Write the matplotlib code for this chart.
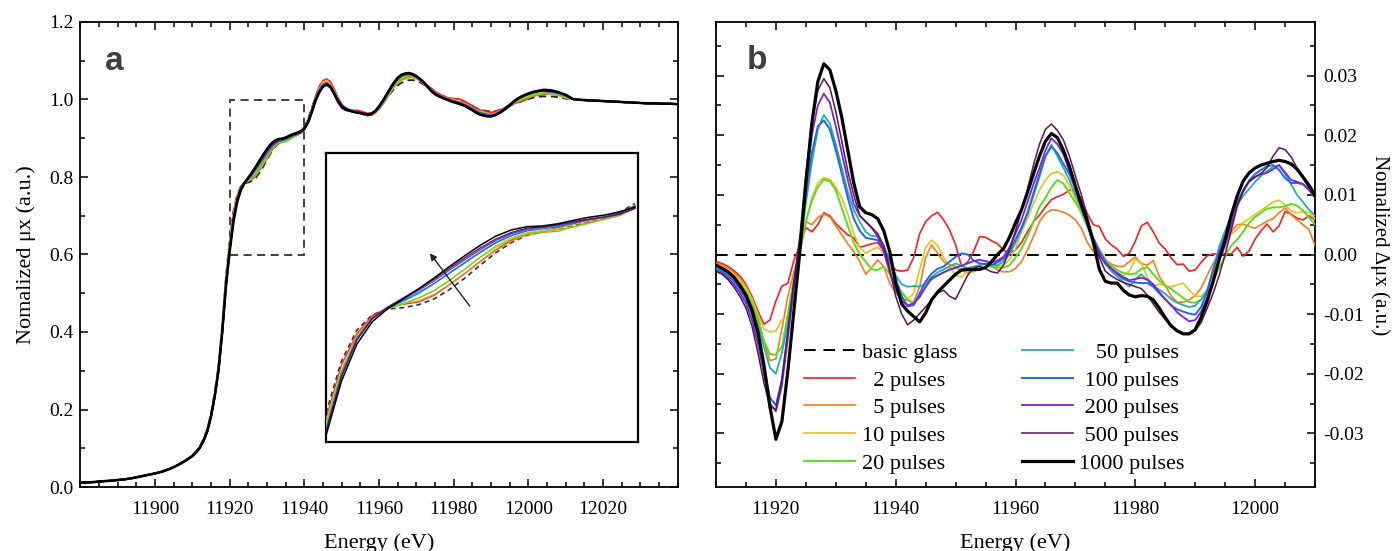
import numpy as np
import matplotlib
matplotlib.use('Agg')
import matplotlib.pyplot as plt
from matplotlib.ticker import MultipleLocator, FormatStrFormatter
from matplotlib.patches import Rectangle

plt.rcParams['font.family'] = ['Liberation Serif', 'DejaVu Serif']
plt.rcParams['axes.unicode_minus'] = False

# ---------------- data ----------------
# panel (b) energy grid (eV)
energy_b = np.arange(11910, 12011, 1)

# panel (a) pre-edge / post-edge energies and basic glass absorption
energy_pre = [11880, 11882, 11884, 11886, 11888, 11890, 11892, 11894,
              11896, 11898, 11900, 11902, 11904, 11906, 11908]
base_pre = [0.011, 0.012, 0.013, 0.015, 0.016, 0.018, 0.020, 0.023,
            0.027, 0.031, 0.035, 0.040, 0.047, 0.056, 0.067]
energy_post = [12012, 12014, 12016, 12018, 12020, 12022, 12024, 12026,
               12028, 12030, 12032, 12034, 12036, 12038, 12040]
base_post = [1.001, 0.999, 0.998, 0.997, 0.996, 0.995, 0.994, 0.993,
             0.992, 0.991, 0.990, 0.990, 0.989, 0.989, 0.988]
# basic glass normalized mu x on energy_b grid
base_mid = [
    0.082, 0.092, 0.105, 0.124, 0.150, 0.190, 0.245, 0.315, 0.420, 0.545,
    0.640, 0.712, 0.755, 0.776, 0.784, 0.786, 0.790, 0.798, 0.811, 0.827,
    0.845, 0.862, 0.876, 0.886, 0.891, 0.895, 0.900, 0.905, 0.910, 0.918,
    0.930, 0.950, 0.978, 1.008, 1.030, 1.043, 1.046, 1.038, 1.020, 1.000,
    0.986, 0.978, 0.974, 0.971, 0.969, 0.967, 0.964, 0.962, 0.963, 0.968,
    0.977, 0.989, 1.002, 1.015, 1.027, 1.036, 1.043, 1.047, 1.050, 1.050,
    1.048, 1.044, 1.038, 1.031, 1.024, 1.018, 1.013, 1.009, 1.006, 1.003,
    1.000, 0.997, 0.994, 0.991, 0.987, 0.983, 0.978, 0.974, 0.972, 0.970,
    0.969, 0.970, 0.972, 0.975, 0.979, 0.983, 0.988, 0.992, 0.995, 0.998,
    1.001, 1.004, 1.006, 1.007, 1.008, 1.008, 1.008, 1.007, 1.006, 1.004,
    1.002]

# difference spectra (units of 1e-3) on energy_b grid
d_2 = [
    -1.2, -1.5, -2.0, -2.7, -3.6, -5.0, -7.0, -9.5, -11.7, -11.0,
    -7.8, -5.3, -4.8, -1.0, 1.5, 4.5, 3.8, 5.0, 7.0, 6.5,
    5.2, 4.2, 3.3, 2.8, 1.2, 1.5, 1.8, 2.0, 0.6, -1.5,
    -2.6, -2.8, -2.6, -0.5, 3.5, 5.5, 6.5, 7.1, 5.8, 4.1,
    1.6, -2.0, -1.3, 0.5, 3.0, 2.9, 2.3, 1.8, 0.7, 0.2,
    0.8, 2.0, 3.8, 5.5, 6.6, 8.0, 9.2, 9.7, 10.1, 10.8,
    10.8, 9.3, 6.8, 5.0, 4.7, 2.6, 1.6, 0.9, -0.3, 0.2,
    2.2, 4.8, 5.4, 3.8, 1.9, 0.9, -0.6, -1.7, -1.6, -2.8,
    -2.6, -1.3, -0.2, 0.1, 0.1, 0.1, 0.1, 1.2, -0.3, 0.6,
    2.6, 4.0, 5.1, 3.8, 4.8, 7.2, 6.8, 6.1, 5.8, 6.5,
    5.8]
d_5 = [
    -1.5, -1.8, -2.3, -3.0, -4.0, -5.3, -7.3, -10.5, -14.5, -17.8,
    -17.5, -12.5, -7.0, -3.0, 0.5, 5.5, 5.0, 6.2, 6.8, 6.3,
    4.8, 3.3, 1.8, 0.5, -1.2, -3.3, -2.2, -0.9, -2.0, -4.8,
    -6.5, -7.4, -7.7, -8.0, -5.4, -0.5, 1.6, 0.2, -1.2, -1.7,
    -2.0, -2.6, -3.1, -2.3, -1.8, -1.5, -1.9, -2.6, -2.9, -2.9,
    -2.3, -1.2, 0.8, 3.0, 5.5, 6.9, 7.5, 7.4, 7.1, 6.6,
    5.8, 4.4, 2.0, 0.5, -0.4, -0.9, -1.6, -2.0, -2.0, -1.2,
    -0.4, -1.5, -1.8, -1.0, -3.7, -5.2, -7.0, -8.0, -8.0, -7.6,
    -6.9, -5.6, -3.5, -1.5, 0.2, 1.8, 3.8, 5.0, 5.1, 4.7,
    4.4, 5.0, 5.6, 6.0, 7.0, 7.8, 6.7, 5.8, 5.0, 4.2,
    1.5]
d_10 = [
    -1.8, -2.2, -2.7, -3.4, -4.3, -5.6, -7.5, -10.0, -12.5, -13.0,
    -12.8, -11.0, -10.3, -5.0, 0.5, 5.5, 9.5, 12.0, 12.9, 12.6,
    11.3, 9.5, 6.8, 3.5, 1.2, 0.2, 0.8, 1.2, 0.2, -2.0,
    -4.5, -6.5, -7.5, -6.5, -2.5, 1.2, 2.4, 1.5, -0.5, -2.0,
    -3.5, -3.8, -2.7, -2.3, -2.3, -2.1, -2.0, -2.0, -1.7, -0.9,
    1.0, 3.8, 6.0, 8.5, 10.8, 12.5, 13.6, 13.9, 13.3, 11.6,
    9.3, 6.8, 4.7, 2.3, 1.0, -0.7, -2.0, -3.0, -3.6, -2.8,
    -0.8, -1.5, -3.8, -5.3, -5.0, -5.2, -5.4, -5.1, -4.8, -6.0,
    -7.0, -7.0, -6.0, -3.5, -0.5, 2.0, 3.4, 4.2, 5.3, 6.0,
    6.7, 7.4, 8.1, 8.8, 9.1, 8.3, 7.3, 7.0, 7.2, 7.0,
    6.0]
d_20 = [
    -2.0, -2.4, -3.0, -3.8, -4.8, -6.2, -8.2, -11.0, -14.5, -16.7,
    -16.8, -15.5, -10.0, -4.0, 0.5, 5.5, 9.0, 11.3, 12.6, 12.3,
    10.8, 7.8, 4.8, 2.0, 0.0, -1.2, -2.5, -2.6, -2.0, -3.2,
    -4.9, -6.3, -7.6, -8.2, -7.1, -5.0, -4.2, -3.6, -3.0, -2.6,
    -2.3, -2.5, -2.7, -2.9, -2.4, -2.0, -2.0, -2.2, -2.2, -1.8,
    -0.5, 1.0, 3.0, 5.5, 8.0, 9.5, 11.3, 12.5, 11.9, 10.3,
    8.7, 7.2, 4.8, 2.3, 0.3, -0.9, -1.9, -2.6, -3.1, -3.3,
    -3.2, -2.4, -2.1, -3.3, -4.4, -5.2, -5.8, -6.5, -7.3, -8.0,
    -8.1, -7.6, -6.5, -4.5, -2.2, -0.3, 1.5, 2.5, 3.8, 5.3,
    6.3, 7.0, 7.7, 7.9, 7.9, 8.1, 8.5, 8.2, 7.4, 6.2,
    5.0]
d_50 = [
    -2.3, -2.7, -3.3, -4.1, -5.2, -6.7, -8.8, -11.8, -15.5, -19.0,
    -20.0, -16.5, -11.5, -5.0, 1.0, 8.5, 15.5, 21.0, 23.4, 22.0,
    18.5, 14.5, 10.5, 7.5, 5.5, 3.8, 3.1, 3.0, 1.5, -0.9,
    -3.5, -5.0, -5.4, -5.3, -5.4, -4.9, -3.8, -3.0, -2.5, -2.0,
    -1.5, -1.9, -2.3, -2.0, -1.8, -1.5, -1.7, -1.8, -1.2, 0.0,
    2.0, 4.2, 6.8, 9.8, 13.0, 16.5, 18.4, 16.5, 14.5, 12.5,
    10.0, 7.6, 4.8, 2.2, 0.2, -1.6, -2.8, -3.7, -4.6, -5.4,
    -4.2, -3.3, -4.3, -5.3, -5.9, -6.6, -7.5, -8.1, -8.5, -8.8,
    -8.6, -7.5, -6.0, -2.5, 1.3, 4.0, 6.5, 8.3, 9.8, 11.0,
    12.2, 13.2, 14.0, 14.7, 15.0, 13.5, 11.8, 10.0, 8.8, 7.5,
    6.5]
d_100 = [
    -2.5, -2.9, -3.6, -4.5, -5.8, -7.5, -10.0, -14.0, -19.0, -24.0,
    -25.3, -21.0, -13.0, -5.0, 1.5, 10.0, 17.0, 21.5, 22.5, 21.0,
    17.5, 13.5, 9.5, 6.0, 4.0, 2.8, 2.6, 2.4, 1.0, -1.0,
    -4.0, -7.0, -8.7, -8.5, -6.5, -4.5, -3.2, -2.4, -2.0, -1.2,
    -0.4, 0.2, 0.0, -1.0, -1.5, -1.6, -1.8, -1.3, -0.7, 0.6,
    2.5, 4.5, 7.0, 10.3, 13.5, 16.5, 18.1, 17.0, 15.2, 13.5,
    11.0, 8.0, 5.3, 2.8, 0.6, -1.2, -2.4, -3.3, -4.1, -4.5,
    -4.7, -4.8, -4.8, -5.4, -6.5, -7.5, -8.6, -9.2, -9.6, -9.9,
    -10.1, -8.8, -6.3, -2.5, 0.5, 3.2, 6.3, 8.8, 10.7, 12.4,
    13.5, 14.2, 14.8, 15.0, 14.2, 12.8, 12.0, 12.0, 11.8, 11.0,
    10.0]
d_200 = [
    -2.8, -3.2, -4.0, -5.0, -6.4, -8.2, -11.0, -15.0, -20.0, -25.0,
    -26.3, -22.0, -14.0, -5.5, 2.0, 12.0, 20.0, 25.0, 27.0, 25.5,
    21.5, 17.0, 12.5, 8.5, 6.5, 5.5, 4.5, 3.0, 0.5, -3.0,
    -6.0, -7.8, -8.5, -8.2, -7.1, -5.5, -4.0, -3.5, -3.0, -2.5,
    -2.2, -1.9, -1.5, -1.1, -0.9, -1.1, -1.4, -1.0, -0.4, 1.2,
    3.5, 5.8, 8.8, 11.8, 14.5, 17.5, 19.5, 18.5, 16.8, 14.0,
    11.5, 8.8, 5.5, 2.5, 0.0, -1.5, -2.4, -3.1, -3.8, -4.3,
    -4.1, -3.9, -4.2, -5.0, -6.3, -7.5, -8.5, -9.7, -10.5, -11.2,
    -11.0, -9.6, -7.3, -4.5, -1.0, 1.5, 5.0, 8.2, 10.5, 12.2,
    13.0, 13.5, 13.7, 14.3, 15.0, 13.8, 12.5, 12.2, 11.8, 10.8,
    9.5]
d_500 = [
    -2.8, -3.3, -4.2, -5.5, -7.0, -9.0, -12.0, -16.5, -21.5, -25.5,
    -26.0, -21.0, -13.0, -4.5, 3.0, 13.5, 22.0, 27.5, 29.5, 28.0,
    24.0, 19.0, 14.0, 10.0, 6.5, 5.5, 4.5, 3.5, 1.5, -2.5,
    -7.0, -10.0, -11.8, -11.0, -9.9, -8.8, -7.6, -6.5, -6.0, -7.0,
    -7.5, -5.5, -3.5, -2.3, -2.0, -2.4, -2.9, -3.1, -1.8, 0.8,
    4.0, 7.3, 11.0, 15.0, 18.5, 21.0, 21.9, 20.8, 19.2, 16.5,
    13.2, 10.0, 6.3, 2.6, -0.5, -2.8, -3.6, -4.2, -4.7, -5.0,
    -5.4, -5.7, -6.8, -8.3, -9.7, -10.9, -12.0, -12.9, -13.4, -13.4,
    -12.8, -11.4, -9.0, -6.5, -3.5, 0.0, 4.0, 8.0, 10.8, 12.3,
    13.0, 13.6, 14.6, 16.5, 17.9, 17.6, 16.4, 14.5, 12.8, 11.2,
    9.5]
d_1000 = [
    -1.8, -2.3, -2.9, -3.8, -5.2, -6.8, -9.3, -13.0, -18.5, -25.5,
    -31.0, -28.0, -19.5, -9.5, 0.5, 12.0, 22.0, 29.0, 32.0, 31.0,
    27.5, 23.0, 17.5, 12.0, 8.0, 7.0, 6.7, 6.0, 4.0, 0.5,
    -4.8, -8.3, -9.5, -10.4, -11.3, -9.8, -7.6, -6.3, -5.3, -4.3,
    -3.3, -2.6, -2.5, -2.5, -2.5, -2.2, -1.2, 0.0, 1.0, 2.9,
    5.3, 7.5, 10.4, 13.5, 16.5, 19.0, 20.3, 19.6, 17.5, 14.8,
    11.5, 8.3, 5.5, 2.0, -2.5, -4.5, -4.8, -4.8, -6.0, -6.8,
    -7.1, -6.9, -7.0, -7.6, -9.0, -10.6, -12.0, -12.8, -13.3, -13.3,
    -12.6, -10.5, -7.8, -4.5, -0.8, 2.5, 6.5, 9.8, 12.3, 13.7,
    14.5, 15.0, 15.3, 15.6, 15.8, 15.6, 15.2, 14.3, 13.0, 11.6,
    10.0]

series_labels = ['  2 pulses', '  5 pulses', '10 pulses', '20 pulses',
                 '   50 pulses', ' 100 pulses', ' 200 pulses', ' 500 pulses',
                 '1000 pulses']
series_diffs = [d_2, d_5, d_10, d_20, d_50, d_100, d_200, d_500, d_1000]
series_colors = ['#ff1e1e', '#ff7a1a', '#e2c41c', '#5ade1c', '#1fb2a4',
                 '#1f66f5', '#7b22e0', '#5e1258', '#000000']
series_lw_b = [1.2, 1.2, 1.2, 1.4, 1.3, 1.4, 1.3, 1.1, 2.3]
base_label = 'basic glass'

inset_xlim = (11920, 11940)
inset_ylim = (0.6, 1.0)

# ---------------- figure ----------------
W, H = 1394, 551
fig = plt.figure(figsize=(W / 100, H / 100), dpi=100)


def px_axes(x0, y0, x1, y1):
    return [x0 / W, 1 - y1 / H, (x1 - x0) / W, (y1 - y0) / H]


axa = fig.add_axes(px_axes(80.4, 22, 677.7, 487))
axb = fig.add_axes(px_axes(716, 22, 1315, 487))
axi = fig.add_axes(px_axes(326, 153, 638, 442))

e_b = np.asarray(energy_b, dtype=float)
base_mid_arr = np.asarray(base_mid)
energy_a = np.concatenate([energy_pre, e_b, energy_post])
base_a = np.concatenate([base_pre, base_mid_arr, base_post])

# ---- panel a ----
axa.plot(energy_a, base_a, color='#222222', lw=1.3, dashes=(4, 2.5), zorder=2)
for d, c in zip(series_diffs, series_colors):
    y = np.concatenate([base_pre, base_mid_arr + np.asarray(d) * 1e-3, base_post])
    lw = 1.8 if c == '#000000' else 1.4
    axa.plot(energy_a, y, color=c, lw=lw, zorder=3)

axa.set_xlim(11880, 12040)
axa.set_ylim(0, 1.2)
axa.set_xticks(np.arange(11900, 12021, 20))
axa.xaxis.set_minor_locator(MultipleLocator(5))
axa.yaxis.set_major_locator(MultipleLocator(0.2))
axa.yaxis.set_minor_locator(MultipleLocator(0.1))
axa.yaxis.set_major_formatter(FormatStrFormatter('%.1f'))
axa.add_patch(Rectangle((inset_xlim[0], inset_ylim[0]),
                        inset_xlim[1] - inset_xlim[0], inset_ylim[1] - inset_ylim[0],
                        fill=False, ec='#333333', lw=1.3, ls=(0, (4.5, 3)), zorder=1))
axa.text(0.041, 0.914, 'a', transform=axa.transAxes, fontsize=24, fontweight='bold',
         family='Liberation Sans', color='#404040', ha='left', va='center')
axa.set_ylabel('Nomalized μx (a.u.)', fontsize=16, labelpad=9)
axa.set_xlabel('Energy (eV)', fontsize=16)
axa.xaxis.set_label_coords(0.5, -0.099)

# ---- inset ----
sel = (e_b >= inset_xlim[0]) & (e_b <= inset_xlim[1])
axi.plot(e_b[sel], base_mid_arr[sel], color='#333333', lw=1.2, dashes=(3, 2.2), zorder=2)
for d, c in zip(series_diffs, series_colors):
    y = base_mid_arr + np.asarray(d) * 1e-3
    lw = 1.1 if c == '#000000' else 0.9
    axi.plot(e_b[sel], y[sel], color=c, lw=lw, zorder=3)
axi.set_xlim(inset_xlim[0], inset_xlim[1] + 0.2)
axi.set_ylim(*inset_ylim)
axi.set_xticks([])
axi.set_yticks([])
for s in axi.spines.values():
    s.set_linewidth(1.6)
axi.annotate('', xy=(0.333, 0.653), xytext=(0.461, 0.47), xycoords='axes fraction',
             textcoords='axes fraction',
             arrowprops=dict(arrowstyle='-|>', color='#222222', lw=1.0,
                             mutation_scale=10, shrinkA=0, shrinkB=0))

# ---- panel b ----
handles = []
h0, = axb.plot(e_b, np.zeros_like(e_b), color='black', lw=1.4, dashes=(6, 4), zorder=2)
handles.append(h0)
for d, c, lw in zip(series_diffs, series_colors, series_lw_b):
    h, = axb.plot(e_b, np.asarray(d) * 1e-3, color=c, lw=lw, zorder=3)
    handles.append(h)
labels = [base_label] + series_labels

axb.set_xlim(11910, 12010)
axb.set_ylim(-0.039, 0.039)
axb.xaxis.set_major_locator(MultipleLocator(20))
axb.xaxis.set_minor_locator(MultipleLocator(5))
axb.yaxis.set_major_locator(MultipleLocator(0.01))
axb.yaxis.set_minor_locator(MultipleLocator(0.005))
axb.yaxis.set_major_formatter(FormatStrFormatter('%.2f'))
axb.text(0.052, 0.918, 'b', transform=axb.transAxes, fontsize=24, fontweight='bold',
         family='Liberation Sans', color='#404040', ha='left', va='center')
axb.set_xlabel('Energy (eV)', fontsize=16)
axb.xaxis.set_label_coords(0.5, -0.099)
axb.yaxis.set_label_position('right')
axb.set_ylabel('Nomalized Δμx (a.u.)', fontsize=15, rotation=270, va='bottom')
axb.yaxis.set_label_coords(1.092, 0.52)

axb.legend(handles, labels, loc='upper left', bbox_to_anchor=(0.147, 0.311), ncol=2,
           frameon=False, fontsize=16, handlelength=2.3, handletextpad=0.3,
           columnspacing=2.9, labelspacing=0.32, borderpad=0, borderaxespad=0)

for ax in (axa, axb):
    ax.tick_params(which='both', direction='in', top=True, right=True, width=1.1,
                   labelsize=14, colors='black')
    ax.tick_params(which='major', length=6)
    ax.tick_params(which='minor', length=3.5)
    ax.tick_params(axis='x', pad=10)
    for s in ax.spines.values():
        s.set_linewidth(1.3)
axa.tick_params(axis='y', pad=5)
axb.tick_params(axis='y', which='both', labelleft=False, labelright=True, pad=6)

fig.savefig('out.png', dpi=100)
